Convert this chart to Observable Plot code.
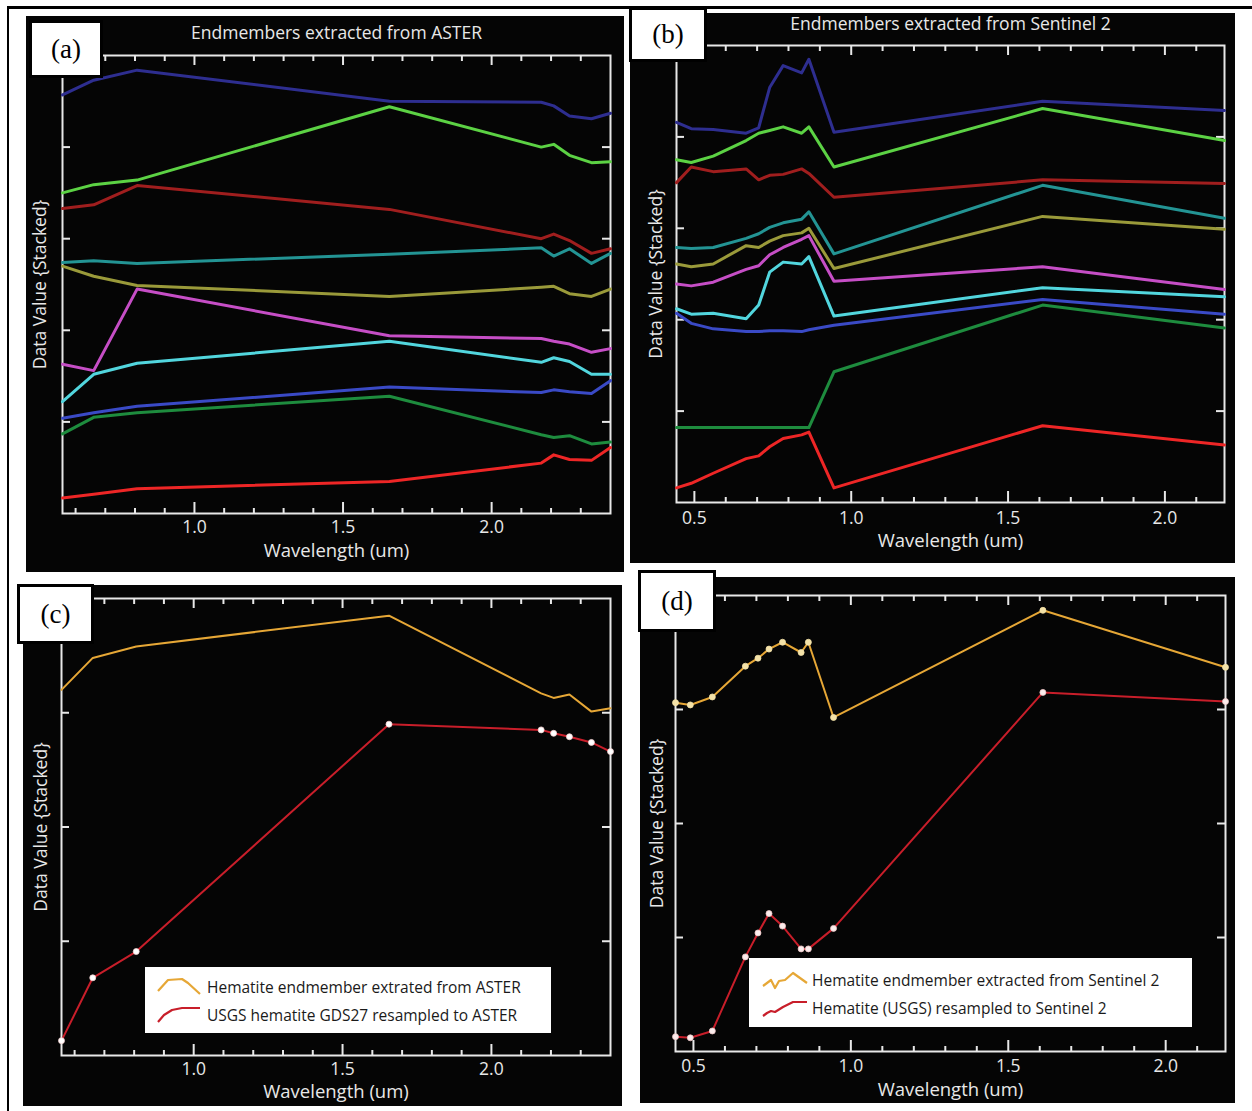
<!DOCTYPE html>
<html><head><meta charset="utf-8">
<script src="https://cdn.jsdelivr.net/npm/d3@7"></script>
<script src="https://cdn.jsdelivr.net/npm/@observablehq/plot@0.6"></script>
<style>
body{margin:0;background:#fff;}
#fig{position:relative;width:1252px;height:1111px;background:#fff;overflow:hidden;font-family:"Open Sans",sans-serif;}
.border{position:absolute;left:7px;top:6px;width:1245px;height:1105px;border-top:3px solid #000;border-left:2px solid #000;box-sizing:border-box;}
.panel{position:absolute;background:#050505;overflow:visible;}
.panel svg{display:block;position:absolute;left:0;overflow:visible;}
.tag{position:absolute;background:#fff;border:3px solid #000;box-sizing:border-box;font-family:"Liberation Serif","DejaVu Serif",serif;font-size:27px;display:flex;align-items:center;justify-content:center;color:#000;}
.legend{position:absolute;background:#fff;color:#1a1a1a;font-size:15.5px;}
.legend span{position:absolute;white-space:nowrap;line-height:20px;}
.legend svg{position:absolute;left:0;top:0;}
</style></head><body><div id="fig"><div class="border"></div></div>
<script>
// ---- band centres (um) ----
const asterBands = [0.556, 0.661, 0.807, 1.656, 2.167, 2.209, 2.262, 2.336, 2.400];
const sentinelBands = [0.443, 0.490, 0.560, 0.665, 0.705, 0.740, 0.783, 0.842, 0.865, 0.945, 1.610, 2.190];

// ---- tick labels ----
const asterMajor = [1.0, 1.5, 2.0];
const asterMinor = [0.6, 0.7, 0.8, 0.9, 1.1, 1.2, 1.3, 1.4, 1.6, 1.7, 1.8, 1.9, 2.1, 2.2, 2.3];
const s2Major = [0.5, 1.0, 1.5, 2.0];
const s2Minor = [0.6, 0.7, 0.8, 0.9, 1.1, 1.2, 1.3, 1.4, 1.6, 1.7, 1.8, 1.9, 2.1];
const yTicksTop = [1, 2, 3, 4];
const yTicksBottom = [1, 2, 3];

// ---- series colours (top to bottom) ----
const endmemberColors = ["#2e2e90", "#5cd244", "#a01e1e", "#239494", "#9a9a3a", "#c64ec6", "#52d6de", "#3a4ac6", "#1e8c3e", "#ee2626"];

// ---- (a) endmembers extracted from ASTER, stacked values ----
const asterNavy    = [4.57, 4.73, 4.84, 4.50, 4.49, 4.45, 4.34, 4.31, 4.37];
const asterGreen   = [3.50, 3.59, 3.64, 4.44, 4.00, 4.03, 3.91, 3.83, 3.84];
const asterMaroon  = [3.33, 3.37, 3.58, 3.32, 3.00, 3.05, 2.98, 2.84, 2.89];
const asterTeal    = [2.74, 2.76, 2.73, 2.83, 2.90, 2.81, 2.89, 2.73, 2.84];
const asterOlive   = [2.70, 2.59, 2.49, 2.37, 2.47, 2.48, 2.40, 2.37, 2.45];
const asterMagenta = [1.63, 1.56, 2.45, 1.94, 1.91, 1.88, 1.85, 1.76, 1.80];
const asterCyan    = [1.22, 1.52, 1.64, 1.88, 1.65, 1.70, 1.66, 1.52, 1.52];
const asterBlue    = [1.04, 1.10, 1.17, 1.38, 1.32, 1.35, 1.33, 1.31, 1.45];
const asterDkGreen = [0.87, 1.05, 1.10, 1.28, 0.86, 0.83, 0.85, 0.76, 0.78];
const asterRed     = [0.17, 0.21, 0.27, 0.35, 0.55, 0.64, 0.59, 0.58, 0.72];

// ---- (b) endmembers extracted from Sentinel 2, stacked values ----
const s2Navy    = [4.16, 4.09, 4.08, 4.04, 4.10, 4.54, 4.78, 4.70, 4.85, 4.05, 4.39, 4.29];
const s2Green   = [3.75, 3.72, 3.79, 3.96, 4.04, 4.07, 4.11, 4.04, 4.11, 3.67, 4.31, 3.96];
const s2Maroon  = [3.50, 3.67, 3.62, 3.65, 3.53, 3.58, 3.59, 3.65, 3.60, 3.34, 3.53, 3.49];
const s2Teal    = [2.79, 2.78, 2.79, 2.89, 2.94, 3.01, 3.06, 3.10, 3.18, 2.72, 3.47, 3.11];
const s2Olive   = [2.61, 2.58, 2.61, 2.81, 2.79, 2.86, 2.92, 2.95, 3.00, 2.56, 3.13, 2.99];
const s2Magenta = [2.39, 2.37, 2.41, 2.55, 2.59, 2.71, 2.79, 2.88, 2.92, 2.42, 2.58, 2.33];
const s2Cyan    = [2.12, 2.06, 2.07, 2.01, 2.16, 2.52, 2.63, 2.61, 2.69, 2.04, 2.35, 2.25];
const s2Blue    = [2.07, 1.96, 1.90, 1.87, 1.87, 1.88, 1.88, 1.87, 1.89, 1.94, 2.22, 2.06];
const s2DkGreen = [0.82, 0.82, 0.82, 0.82, 0.82, 0.82, 0.82, 0.82, 0.82, 1.43, 2.16, 1.91];
const s2Red     = [0.16, 0.21, 0.32, 0.48, 0.51, 0.61, 0.70, 0.74, 0.77, 0.16, 0.84, 0.63];

// ---- (c) hematite, ASTER ----
const asterHematite = [3.20, 3.48, 3.58, 3.85, 3.17, 3.13, 3.16, 3.01, 3.04];
const asterUSGS     = [0.13, 0.68, 0.91, 2.90, 2.85, 2.82, 2.79, 2.74, 2.66];
// ---- (d) hematite, Sentinel 2 ----
const s2Hematite = [3.06, 3.04, 3.11, 3.38, 3.45, 3.53, 3.59, 3.50, 3.59, 2.93, 3.87, 3.37];
const s2USGS     = [0.13, 0.12, 0.18, 0.83, 1.04, 1.21, 1.10, 0.90, 0.90, 1.08, 3.15, 3.07];

const legendC = ["Hematite endmember extrated from ASTER", "USGS hematite GDS27 resampled to ASTER"];
const legendD = ["Hematite endmember extracted from Sentinel 2", "Hematite (USGS) resampled to Sentinel 2"];

const hemColor = "#e6a736", usgsColor = "#c81e2a";
const fg = "#e8e8e8";

function toRows(bands, values, color) {
  return bands.map((w, i) => ({w, v: values[i], color}));
}

function panel(cfg) {
  const extra = cfg.extraTop || 0; // head-room above the black panel so the title is not clipped
  const fw = cfg.width - cfg.mLeft - cfg.mRight;
  const fh = cfg.height - cfg.mTop - cfg.mBottom;
  const txt = {fill: fg, lineAnchor: "middle", textAnchor: "middle", text: d => d};
  const marks = [
    Plot.frame({stroke: fg, strokeWidth: 2}),
    Plot.tickX(cfg.minor, {x: d => d, stroke: fg, strokeWidth: 2, insetTop: fh - 5}),
    Plot.tickX(cfg.major, {x: d => d, stroke: fg, strokeWidth: 2, insetTop: fh - 11}),
    Plot.tickX(cfg.minor, {x: d => d, stroke: fg, strokeWidth: 2, insetBottom: fh - 6}),
    Plot.tickX(cfg.major, {x: d => d, stroke: fg, strokeWidth: 2, insetBottom: fh - 10}),
    Plot.tickY(cfg.yTicks, {y: d => d, stroke: fg, strokeWidth: 2, insetRight: fw - 8}),
    Plot.tickY(cfg.yTicks, {y: d => d, stroke: fg, strokeWidth: 2, insetLeft: fw - 8}),
    Plot.text(cfg.major, {...txt, x: d => d, frameAnchor: "bottom", dy: cfg.tickDy, text: d => d.toFixed(1), fontSize: 17.5}),
    Plot.text(["Wavelength (um)"], {...txt, frameAnchor: "bottom", dy: cfg.labelDy, fontSize: 18.5}),
    Plot.text(["Data Value {Stacked}"], {...txt, frameAnchor: "left", dx: cfg.yLabelDx, rotate: -90, fontSize: 17.5})
  ];
  if (cfg.title) marks.push(Plot.text([cfg.title], {...txt, frameAnchor: "top", dy: cfg.titleDy, fontSize: 17.5}));
  for (const s of cfg.series) {
    const rows = toRows(cfg.bands, s.values, s.color);
    marks.push(Plot.line(rows, {x: "w", y: "v", stroke: s.color, strokeWidth: cfg.lineWidth, strokeLinejoin: "round"}));
    if (s.dot) marks.push(Plot.dot(rows, {x: "w", y: "v", r: 3, fill: s.dot, stroke: s.dotStroke || s.dot, strokeWidth: 0.8}));
  }
  const svg = Plot.plot({
    width: cfg.width, height: cfg.height + extra,
    marginLeft: cfg.mLeft, marginRight: cfg.mRight, marginTop: cfg.mTop + extra, marginBottom: cfg.mBottom,
    x: {domain: cfg.xDomain, axis: null},
    y: {domain: cfg.yDomain, axis: null},
    style: {background: "transparent", fontFamily: "'Open Sans', sans-serif", color: fg},
    marks
  });
  svg.style.top = (-extra) + "px";
  const div = document.createElement("div");
  div.className = "panel";
  Object.assign(div.style, {left: cfg.left + "px", top: cfg.top + "px", width: cfg.width + "px", height: cfg.height + "px"});
  div.appendChild(svg);
  document.getElementById("fig").appendChild(div);
}

const asterSeries = [asterNavy, asterGreen, asterMaroon, asterTeal, asterOlive, asterMagenta, asterCyan, asterBlue, asterDkGreen, asterRed]
  .map((values, i) => ({values, color: endmemberColors[i]}));
const s2Series = [s2Navy, s2Green, s2Maroon, s2Teal, s2Olive, s2Magenta, s2Cyan, s2Blue, s2DkGreen, s2Red]
  .map((values, i) => ({values, color: endmemberColors[i]}));

panel({left: 26, top: 16, width: 598, height: 556, mLeft: 36, mRight: 14, mTop: 39, mBottom: 59,
  xDomain: [0.556, 2.400], yDomain: [0, 5], yTicks: yTicksTop, minor: asterMinor, major: asterMajor,
  bands: asterBands, series: asterSeries, lineWidth: 3,
  title: "Endmembers extracted from ASTER", titleDy: -22, tickDy: 14, labelDy: 38, yLabelDx: -22});

panel({left: 630, top: 13, width: 605, height: 550, mLeft: 46, mRight: 11, mTop: 32, mBottom: 61, extraTop: 8,
  xDomain: [0.443, 2.190], yDomain: [0, 5], yTicks: yTicksTop, minor: s2Minor, major: s2Major,
  bands: sentinelBands, series: s2Series, lineWidth: 3,
  title: "Endmembers extracted from Sentinel 2", titleDy: -21, tickDy: 16, labelDy: 39, yLabelDx: -20});

panel({left: 23, top: 585, width: 599, height: 521, mLeft: 38, mRight: 12, mTop: 13, mBottom: 51,
  xDomain: [0.556, 2.400], yDomain: [0, 4], yTicks: yTicksBottom, minor: asterMinor, major: asterMajor,
  bands: asterBands, lineWidth: 2,
  series: [{values: asterHematite, color: hemColor}, {values: asterUSGS, color: usgsColor, dot: "#ffffff", dotStroke: "#f4d0d0"}],
  tickDy: 14, labelDy: 37, yLabelDx: -20});

panel({left: 640, top: 577, width: 595, height: 526, mLeft: 35, mRight: 10, mTop: 18, mBottom: 52,
  xDomain: [0.443, 2.190], yDomain: [0, 4], yTicks: yTicksBottom, minor: s2Minor, major: s2Major,
  bands: sentinelBands, lineWidth: 2,
  series: [{values: s2Hematite, color: hemColor, dot: "#f4e2a8"}, {values: s2USGS, color: usgsColor, dot: "#fbecec", dotStroke: "#f0c8c8"}],
  tickDy: 15, labelDy: 38.5, yLabelDx: -18});

// ---- panel tags ----
const tags = [["(a)", 29, 20, 74, 58], ["(b)", 629, 7, 78, 55], ["(c)", 17, 584, 77, 60], ["(d)", 638, 570, 78, 62]];
for (const [t, l, tp, w, h] of tags) {
  const d = document.createElement("div");
  d.className = "tag";
  Object.assign(d.style, {left: l + "px", top: tp + "px", width: w + "px", height: h + "px"});
  d.textContent = t;
  document.getElementById("fig").appendChild(d);
}

// ---- legends ----
function legend(l, t, w, h, labels, textLeft, rowY, icons) {
  const d = document.createElement("div");
  d.className = "legend";
  Object.assign(d.style, {left: l + "px", top: t + "px", width: w + "px", height: h + "px"});
  const ns = "http://www.w3.org/2000/svg";
  const svg = document.createElementNS(ns, "svg");
  svg.setAttribute("width", w); svg.setAttribute("height", h);
  icons.forEach(([pts, col]) => {
    const p = document.createElementNS(ns, "polyline");
    p.setAttribute("points", pts);
    p.setAttribute("fill", "none"); p.setAttribute("stroke", col);
    p.setAttribute("stroke-width", "2.2"); p.setAttribute("stroke-linejoin", "round");
    svg.appendChild(p);
  });
  d.appendChild(svg);
  labels.forEach((txt, i) => {
    const s = document.createElement("span");
    s.textContent = txt;
    s.style.left = textLeft + "px";
    s.style.top = (rowY[i] - 10) + "px";
    d.appendChild(s);
  });
  document.getElementById("fig").appendChild(d);
}
legend(145, 967, 406, 66, legendC, 62, [20, 48],
  [["13,24 23,13 37,12 43,16 55,27", hemColor], ["13,55 19,48 27,43 37,41 55,41", usgsColor]]);
legend(749, 958, 443, 69, legendD, 63, [22, 50],
  [["14,28 22,22 26,30 30,23 36,22 44,15 58,25", hemColor], ["14,58 18,55 22,53 26,54 34,49 44,44 58,44", usgsColor]]);
</script></body></html>
